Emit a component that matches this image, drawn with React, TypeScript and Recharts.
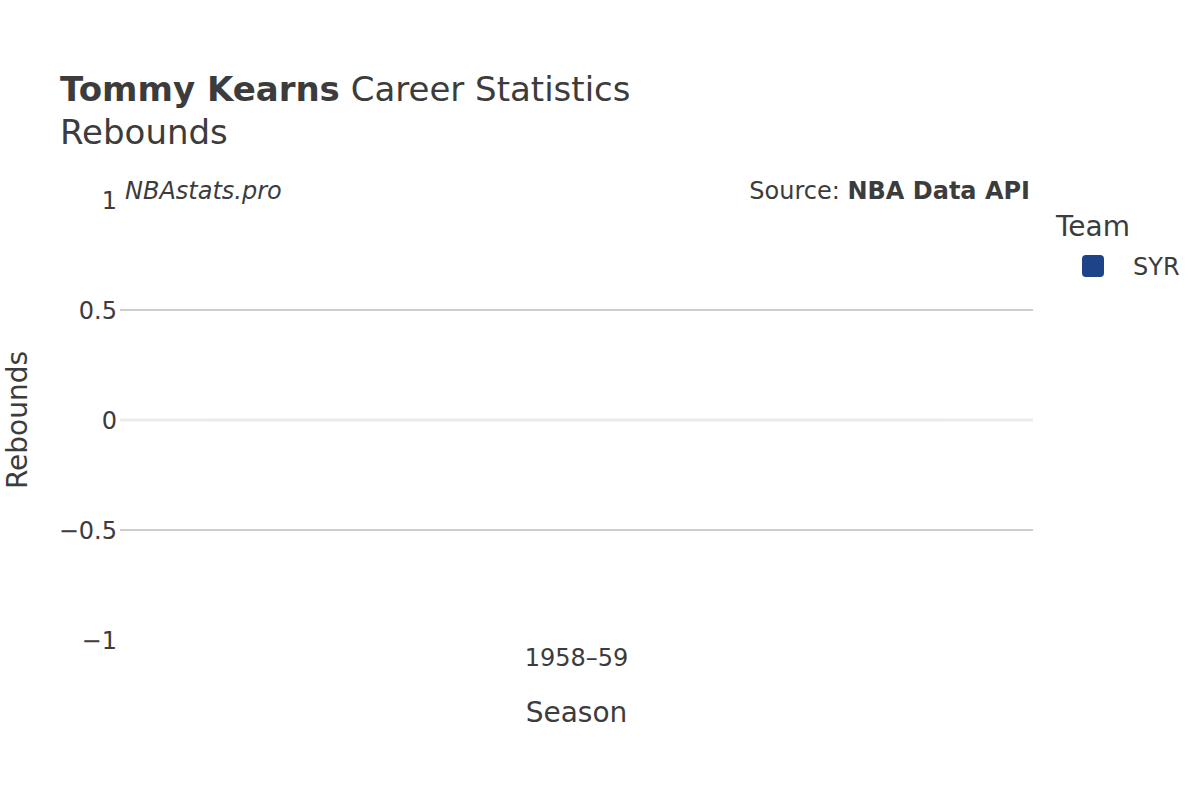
import { Bar, BarChart, ReferenceLine, XAxis, YAxis } from "recharts";

const seasons = ["1958–59"];
const teams = ["SYR"];
const teamColors = ["#1f4387"];
const syrRebounds = [0];
const yTicks = [-1, -0.5, 0, 0.5, 1];
const gridLines = [-0.5, 0.5];

const data = seasons.map((season, i) => ({ season, SYR: syrRebounds[i] }));

const FONT = "DejaVu Sans";
const TEXT = "#3c3c3c";

const minus = (v: number) => String(v).replace("-", "\u2212");

// plotly draws a faint outline where a zero-height bar sits
function FlatBar(props: any) {
  const { x, y, width, height, fill } = props;
  if (!height) {
    return <rect x={x} y={y - 1.5} width={width} height={3} fill="#f7f7f7" />;
  }
  return <rect x={x} y={y} width={width} height={height} fill={fill} />;
}

export default function App() {
  return (
    <div style={{ position: "absolute", top: 0, left: 0, width: 1200, height: 800, fontFamily: FONT }}>
      <BarChart
        width={1200}
        height={800}
        data={data}
        margin={{ top: 200, right: 167, bottom: 100, left: 0 }}
        barCategoryGap="10%"
      >
        <ReferenceLine y={0} stroke="#ececec" strokeWidth={3} />
        {gridLines.map((v) => (
          <ReferenceLine key={v} y={v} stroke="#bdbdbd" strokeWidth={1.5} />
        ))}
        <XAxis
          dataKey="season"
          height={60}
          tickSize={0}
          tickMargin={9}
          axisLine={false}
          tickLine={false}
          tick={{ fontSize: 24, fill: TEXT, fontFamily: FONT }}
          label={{ value: "Season", position: "bottom", offset: 2, fontSize: 28, fill: TEXT, fontFamily: FONT }}
        />
        <YAxis
          width={120}
          domain={[-1, 1]}
          ticks={yTicks}
          interval={0}
          tickSize={0}
          tickMargin={3}
          axisLine={false}
          tickLine={false}
          tickFormatter={minus}
          tick={{ fontSize: 24, fill: TEXT, fontFamily: FONT }}
          label={{ value: "Rebounds", angle: -90, position: "center", dx: -43, fontSize: 28, fill: TEXT, fontFamily: FONT }}
        />
        {teams.map((team, i) => (
          <Bar key={team} dataKey={team} fill={teamColors[i]} shape={FlatBar} isAnimationActive={false} />
        ))}
      </BarChart>
      <svg width={1200} height={800} style={{ position: "absolute", top: 0, left: 0, pointerEvents: "none" }}>
        <text x={60} y={101} fontSize={34} fill={TEXT} fontFamily={FONT}>
          <tspan fontWeight="bold">Tommy Kearns</tspan> Career Statistics
        </text>
        <text x={60} y={144} fontSize={34} fill={TEXT} fontFamily={FONT}>
          Rebounds
        </text>
        <text x={125} y={199} fontSize={24} fontStyle="italic" fill={TEXT} fontFamily={FONT}>
          NBAstats.pro
        </text>
        <text x={1030} y={199} fontSize={24} textAnchor="end" fill={TEXT} fontFamily={FONT}>
          Source: <tspan fontWeight="bold">NBA Data API</tspan>
        </text>
        <text x={1056} y={236} fontSize={28} fill={TEXT} fontFamily={FONT}>
          Team
        </text>
        {teams.map((team, i) => (
          <g key={team}>
            <rect x={1082} y={255} width={22} height={22} rx={4} fill={teamColors[i]} />
            <text x={1133} y={275} fontSize={24} fill={TEXT} fontFamily={FONT}>
              {team}
            </text>
          </g>
        ))}
      </svg>
    </div>
  );
}
